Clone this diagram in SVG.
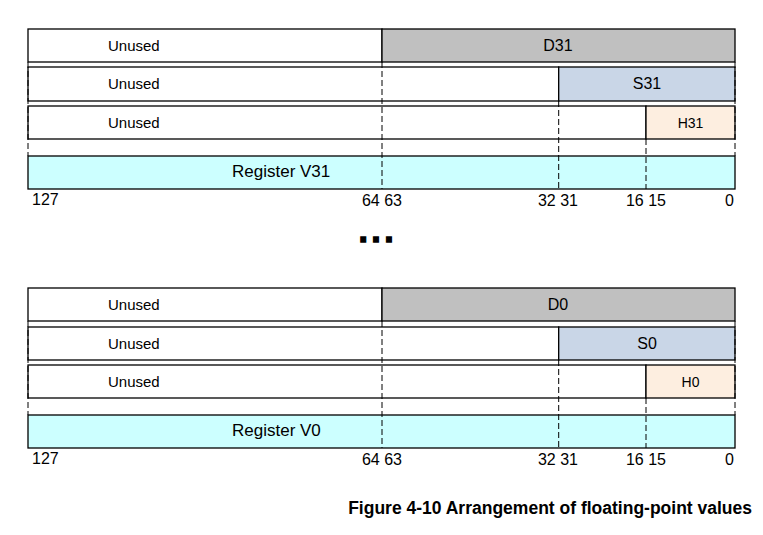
<svg xmlns="http://www.w3.org/2000/svg" width="763" height="535" viewBox="0 0 763 535">
<style>
text{font-family:"Liberation Sans",Arial,sans-serif;fill:#000}
.b{stroke:#000;stroke-width:1.3}
.w{fill:#fff}
.d{fill:#c0c0c0}
.s{fill:#c9d6e7}
.h{fill:#fdeee0}
.r{fill:#ccffff}
.u{font-size:15px}
.l{font-size:16px;text-anchor:middle}
.reg{font-size:17px}
.n{font-size:16px}
.dash{stroke:#000;stroke-width:1;stroke-dasharray:6,3;fill:none}
</style>
<rect width="763" height="535" fill="#fff"/>
<g id="block-v31">
<g id="v31-unused-d"><rect class="b w" x="28" y="29" width="354" height="33"/><text class="u" x="108" y="51">Unused</text></g>
<g id="d31"><rect class="b d" x="382" y="29" width="353" height="33"/><text class="l" x="558" y="51">D31</text></g>
<g id="v31-unused-s"><rect class="b w" x="28" y="67" width="530.7" height="34"/><text class="u" x="108" y="89">Unused</text></g>
<g id="s31"><rect class="b s" x="558.7" y="67" width="176.3" height="34"/><text class="l" x="647" y="89">S31</text></g>
<g id="v31-unused-h"><rect class="b w" x="28" y="106" width="618" height="33"/><text class="u" x="108" y="128">Unused</text></g>
<g id="h31"><rect class="b h" x="646" y="106" width="89" height="33"/><text class="l" x="690.5" y="128" style="font-size:14px">H31</text></g>
<g id="v31"><rect class="b r" x="28" y="156" width="707" height="33"/><text class="reg" x="232" y="177">Register V31</text></g>
<g id="v31-bits">
<text class="n" x="32" y="205">127</text>
<text class="l" x="382" y="206">64 63</text>
<text class="l" x="558" y="206">32 31</text>
<text class="l" x="646" y="206">16 15</text>
<text class="n" x="734" y="206" text-anchor="end">0</text>
</g>
</g>
<g id="ellipsis"><text x="358.5" y="242" style="font-size:34px;font-weight:bold;letter-spacing:3.4px;stroke:#000;stroke-width:1.3">...</text></g>
<g id="block-v0">
<g id="v0-unused-d"><rect class="b w" x="28" y="288" width="354" height="33"/><text class="u" x="108" y="310">Unused</text></g>
<g id="d0"><rect class="b d" x="382" y="288" width="353" height="33"/><text class="l" x="558" y="310">D0</text></g>
<g id="v0-unused-s"><rect class="b w" x="28" y="327" width="530.7" height="33"/><text class="u" x="108" y="349">Unused</text></g>
<g id="s0"><rect class="b s" x="558.7" y="327" width="176.3" height="33"/><text class="l" x="647" y="349">S0</text></g>
<g id="v0-unused-h"><rect class="b w" x="28" y="365" width="618" height="33"/><text class="u" x="108" y="387">Unused</text></g>
<g id="h0"><rect class="b h" x="646" y="365" width="89" height="33"/><text class="l" x="690.5" y="387" style="font-size:14px">H0</text></g>
<g id="v0"><rect class="b r" x="28" y="415" width="707" height="33"/><text class="reg" x="232" y="436">Register V0</text></g>
<g id="v0-bits">
<text class="n" x="32" y="464">127</text>
<text class="l" x="382" y="465">64 63</text>
<text class="l" x="558" y="465">32 31</text>
<text class="l" x="646" y="465">16 15</text>
<text class="n" x="734" y="465" text-anchor="end">0</text>
</g>
</g>
<g id="connectors">
<path class="dash" d="M28 62V156M735 62V156M382 62V189M558.7 101V189M646 139V189"/>
<path class="dash" d="M28 321V415M735 321V415M382 321V448M558.7 360V448M646 398V448"/>
</g>
<g id="caption"><text x="752" y="514" text-anchor="end" style="font-size:17.5px;font-weight:bold">Figure 4-10 Arrangement of floating-point values</text></g>
</svg>
